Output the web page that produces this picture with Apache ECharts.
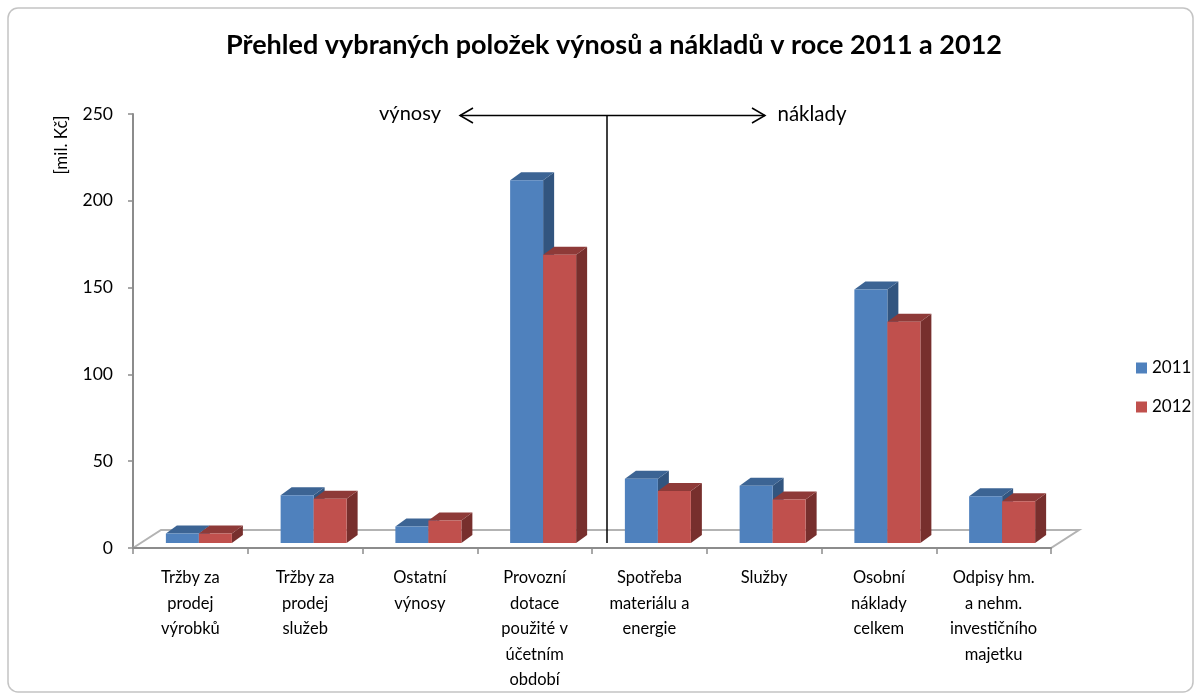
<!DOCTYPE html>
<html>
<head>
<meta charset="utf-8">
<script src="https://cdn.jsdelivr.net/npm/echarts@6/dist/echarts.min.js"></script>
<style>html,body{margin:0;padding:0;background:#fff}#c{width:1201px;height:700px}</style>
</head>
<body>
<div id="c"></div>
<script>
const titleText = 'Přehled vybraných položek výnosů a nákladů v roce 2011 a 2012';
const categories = ['Tržby za\nprodej\nvýrobků', 'Tržby za\nprodej\nslužeb', 'Ostatní\nvýnosy', 'Provozní\ndotace\npoužité v\núčetním\nobdobí', 'Spotřeba\nmateriálu a\nenergie', 'Služby', 'Osobní\nnáklady\ncelkem', 'Odpisy hm.\na nehm.\ninvestičního\nmajetku'];
const seriesNames = ['2011', '2012'];
const values2011 = [5.5, 27.5, 9.5, 209, 37, 33, 146, 27];
const values2012 = [5.5, 25.5, 13, 166, 30, 25, 127.5, 24];
const yMin = 0, yMax = 250, yStep = 50;
const yAxisName = '[mil. Kč]';
const leftNote = 'výnosy';
const rightNote = 'náklady';

const FONT = 'Lato';
const chart = echarts.init(document.getElementById('c'), null, {renderer: 'canvas'});

const W = 33, DX = 11, DY = 8, LIFT = 5;
function barRender(offset, cFront, cTop, cSide) {
  return function (params, api) {
    const idx = api.value(0), v = api.value(1);
    const p0 = api.coord([idx, 0]);
    const p1 = api.coord([idx, v]);
    const h = p0[1] - p1[1];
    const x = p0[0] + offset;
    const by = p0[1] - LIFT, ty = by - h;
    return {
      type: 'group',
      children: [
        {type: 'polygon', shape: {points: [[x + W, ty], [x + W + DX, ty - DY], [x + W + DX, by - DY], [x + W, by]]}, style: {fill: cSide}},
        {type: 'polygon', shape: {points: [[x, ty], [x + DX, ty - DY], [x + W + DX, ty - DY], [x + W, ty]]}, style: {fill: cTop}},
        {type: 'rect', shape: {x: x, y: ty, width: W, height: h}, style: {fill: cFront}}
      ]
    };
  };
}

function floorRender(params, api) {
  const cs = params.coordSys;
  const x0 = cs.x, x1 = cs.x + cs.width, y = cs.y + cs.height;
  const fdx = 28, fdy = 18;
  return {
    type: 'polygon',
    shape: {points: [[x0, y], [x0 + fdx, y - fdy], [x1 + fdx, y - fdy], [x1, y]]},
    style: {fill: '#ffffff', stroke: '#b3b3b3', lineWidth: 2}
  };
}

const option = {
  backgroundColor: '#ffffff',
  animation: false,
  title: {
    text: titleText,
    left: 609, top: 27, textAlign: 'center',
    textStyle: {fontFamily: FONT, fontWeight: 'bold', fontSize: 27, color: '#000'}
  },
  legend: {
    data: seriesNames,
    orient: 'vertical',
    left: 1131, top: 353,
    icon: 'rect', itemWidth: 11, itemHeight: 11, itemGap: 19,
    textStyle: {fontFamily: FONT, fontSize: 17, color: '#000', lineHeight: 20}
  },
  grid: {left: 133, right: 150, top: 114, bottom: 152},
  xAxis: {
    type: 'category',
    data: categories,
    axisLine: {lineStyle: {color: '#8c8c8c', width: 2}},
    axisTick: {show: true, length: 6, lineStyle: {color: '#8c8c8c', width: 1.5}},
    axisLabel: {interval: 0, margin: 17, lineHeight: 25.5, fontFamily: FONT, fontSize: 16.5, color: '#000'},
    z: 3
  },
  yAxis: {
    type: 'value', min: yMin, max: yMax, interval: yStep,
    axisLine: {show: true, lineStyle: {color: '#8c8c8c', width: 2}},
    axisTick: {show: true, length: 5, lineStyle: {color: '#8c8c8c', width: 1.5}},
    splitLine: {show: false},
    axisLabel: {margin: 20, fontFamily: FONT, fontSize: 17.5, color: '#000'}
  },
  series: [
    {type: 'custom', name: 'floor', renderItem: floorRender, data: [[0, 0]], z: 1, silent: true},
    {type: 'custom', name: seriesNames[0], itemStyle: {color: '#4F81BD'}, z: 4,
     renderItem: barRender(-24.5, '#4F81BD', '#3C6494', '#32557F'),
     data: values2011.map((v, i) => [i, v])},
    {type: 'custom', name: seriesNames[1], itemStyle: {color: '#C0504D'}, z: 5,
     renderItem: barRender(8.5, '#C0504D', '#8E3A38', '#772F2D'),
     data: values2012.map((v, i) => [i, v])}
  ],
  graphic: [
    {type: 'rect', shape: {x: 8, y: 8, width: 1185, height: 684, r: 10}, style: {fill: 'none', stroke: '#c4c4c4', lineWidth: 1.5}, z: 0},
    {type: 'text', x: 62, y: 145, rotation: Math.PI / 2, style: {text: yAxisName, fontFamily: FONT, fontSize: 17, fill: '#000', align: 'center', verticalAlign: 'middle'}},
    {type: 'text', x: 410, y: 114, style: {text: leftNote, fontFamily: FONT, fontSize: 20, fill: '#000', align: 'center', verticalAlign: 'middle'}},
    {type: 'text', x: 812, y: 114, style: {text: rightNote, fontFamily: FONT, fontSize: 20.5, fill: '#000', align: 'center', verticalAlign: 'middle'}},
    {type: 'line', shape: {x1: 460, y1: 115.5, x2: 765, y2: 115.5}, style: {stroke: '#000', lineWidth: 1.5}, z: 10},
    {type: 'polyline', shape: {points: [[473, 108], [460, 115.5], [473, 123]]}, style: {stroke: '#000', lineWidth: 1.5, fill: 'none'}, z: 10},
    {type: 'polyline', shape: {points: [[752, 108], [765, 115.5], [752, 123]]}, style: {stroke: '#000', lineWidth: 1.5, fill: 'none'}, z: 10},
    {type: 'line', shape: {x1: 607, y1: 116, x2: 607, y2: 543}, style: {stroke: '#000', lineWidth: 1.5}, z: 10}
  ]
};
chart.setOption(option);
</script>
</body>
</html>
